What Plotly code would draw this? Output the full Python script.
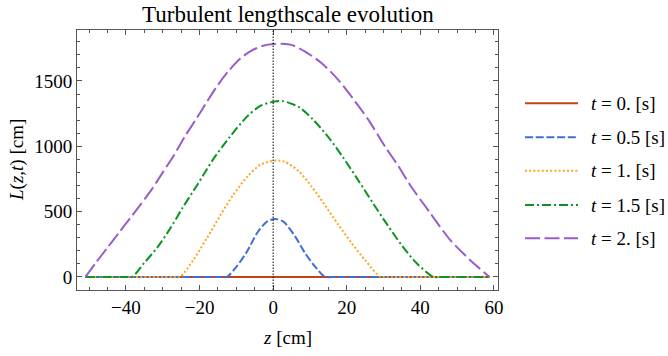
import plotly.graph_objects as go

# ---- data ----
t_labels = ["0.", "0.5", "1.", "1.5", "2."]

z_t0 = [-51.0, 58.8]
L_t0 = [0, 0]

z_t05 = [-51.0, -14.5, -12.6, -9.9, -7.1, -4.4, -1.7, 0.5, 2.8, 6.0, 8.7, 11.4, 14.1, 16.0, 58.8]
L_t05 = [0, 0, 0, 81, 194, 334, 423, 444, 423, 309, 181, 79, 0, 0, 0]

z_t1 = [-51.0, -27.0, -25.3, -21.7, -18.0, -14.4, -10.8, -7.1, -3.5, 0.0, 1.5, 3.3, 6.9, 10.5, 14.1, 17.7, 21.3, 25.0, 29.1, 31.0, 58.8]
L_t1 = [0, 0, 0, 130, 297, 470, 630, 765, 858, 888, 891, 880, 810, 690, 548, 400, 260, 128, 0, 0, 0]

z_t15 = [-51.0, -40.0, -38.3, -35.1, -31.5, -28.0, -24.7, -20.5, -16.3, -11.7, -7.1, -3.5, 0.0, 2.7,
         7.0, 11.0, 15.0, 19.0, 23.0, 27.0, 31.0, 35.0, 39.0, 43.6, 45.5, 58.8]
L_t15 = [0, 0, 0, 105, 225, 370, 525, 710, 900, 1074, 1227, 1309, 1340, 1345,
         1300, 1200, 1070, 915, 745, 570, 400, 240, 105, 0, 0, 0]

z_t2 = [-51.0, -48.0, -45.0, -42.0, -39.0, -36.0, -33.0, -30.0, -27.0, -24.0, -21.0, -18.0, -15.0, -12.0, -9.0, -6.0, -3.0, 0.0, 2.5,
        5.0, 8.7, 13.2, 17.7, 22.3, 25.9, 30.4, 34.0, 37.2, 42.7, 48.1, 53.5, 58.8]
L_t2 = [0, 115, 225, 335, 445, 555, 670, 800, 930, 1075, 1205, 1340, 1470, 1580, 1670, 1730, 1767, 1782, 1785,
        1776, 1725, 1636, 1508, 1342, 1202, 998, 850, 704, 488, 283, 130, 0]

x_ticks = [-40, -20, 0, 20, 40, 60]
y_ticks = [0, 500, 1000, 1500]

series_z = [z_t0, z_t05, z_t1, z_t15, z_t2]
series_L = [L_t0, L_t05, L_t1, L_t15, L_t2]

# ---- styles ----
colors = ["#C8401A", "#3D6FD4", "#FFA51F", "#0A9520", "#9A5CC8"]
dashes = ["solid", "8px,2.7px", "2px,2.2px", "9px,3px,2px,3px", "15px,4.5px"]
FONT = "Liberation Serif, Times New Roman, serif"
AX = "#555555"
TICK_SIZE = 19

fig = go.Figure()
for z, L, c, d in zip(series_z, series_L, colors, dashes):
    fig.add_trace(go.Scatter(
        x=z, y=L, mode="lines", showlegend=False, hoverinfo="skip",
        line=dict(color=c, width=2, dash=d, shape="spline", smoothing=0.8)))

axis_common = dict(
    showline=True, linecolor=AX, linewidth=1, mirror="ticks",
    ticks="inside", ticklen=5, tickcolor=AX, tickwidth=1,
    showgrid=False, zeroline=False,
    tickfont=dict(family=FONT, size=TICK_SIZE, color="black"),
)
fig.update_xaxes(range=[-53.3, 61.1], tickvals=x_ticks,
                 minor=dict(dtick=5, tick0=0, ticks="inside", ticklen=3, tickcolor=AX),
                 **axis_common)
fig.update_yaxes(range=[-100, 1890], tickvals=y_ticks,
                 minor=dict(dtick=100, tick0=0, ticks="inside", ticklen=3, tickcolor=AX),
                 **axis_common)

# vertical dotted line at z = 0
fig.add_shape(type="line", xref="x", yref="paper", x0=0, x1=0, y0=0, y1=1,
              line=dict(color="black", width=1, dash="1.5px,1.5px"))

W, H = 668, 356
ml, mr, mt, mb = 77, 170, 30, 66
pw, ph = W - ml - mr, H - mt - mb

def px_x(p):
    return (p - ml) / pw

def px_y(p):
    return (H - mb - p) / ph

annotations = [
    dict(text="Turbulent lengthscale evolution", x=0.5, y=px_y(14), xref="paper", yref="paper",
         xanchor="center", yanchor="middle", showarrow=False,
         font=dict(family=FONT, size=23, color="black")),
    dict(text="<i>z</i> [cm]", x=0.5, y=px_y(337), xref="paper", yref="paper",
         xanchor="center", yanchor="middle", showarrow=False,
         font=dict(family=FONT, size=TICK_SIZE, color="black")),
    dict(text="<i>L</i>(<i>z</i>,<i>t</i>) [cm]", x=px_x(17), y=0.5, xref="paper", yref="paper",
         xanchor="center", yanchor="middle", textangle=-90, showarrow=False,
         font=dict(family=FONT, size=TICK_SIZE, color="black")),
]

# manual legend
legend_y = [103.3, 137.3, 170.7, 205, 238.3]
for lab, c, d, yy in zip(t_labels, colors, dashes, legend_y):
    fig.add_shape(type="line", xref="paper", yref="paper",
                  x0=px_x(525), x1=px_x(578), y0=px_y(yy), y1=px_y(yy),
                  line=dict(color=c, width=2, dash=d))
    annotations.append(dict(text=f"<i>t</i> = {lab} [s]", x=px_x(589), y=px_y(yy),
                            xref="paper", yref="paper", xanchor="left", yanchor="middle",
                            showarrow=False, font=dict(family=FONT, size=TICK_SIZE, color="black")))

fig.update_layout(
    width=W, height=H,
    margin=dict(l=ml, r=mr, t=mt, b=mb),
    paper_bgcolor="white", plot_bgcolor="white",
    annotations=annotations,
    showlegend=False,
)

fig.write_html("out.html")
